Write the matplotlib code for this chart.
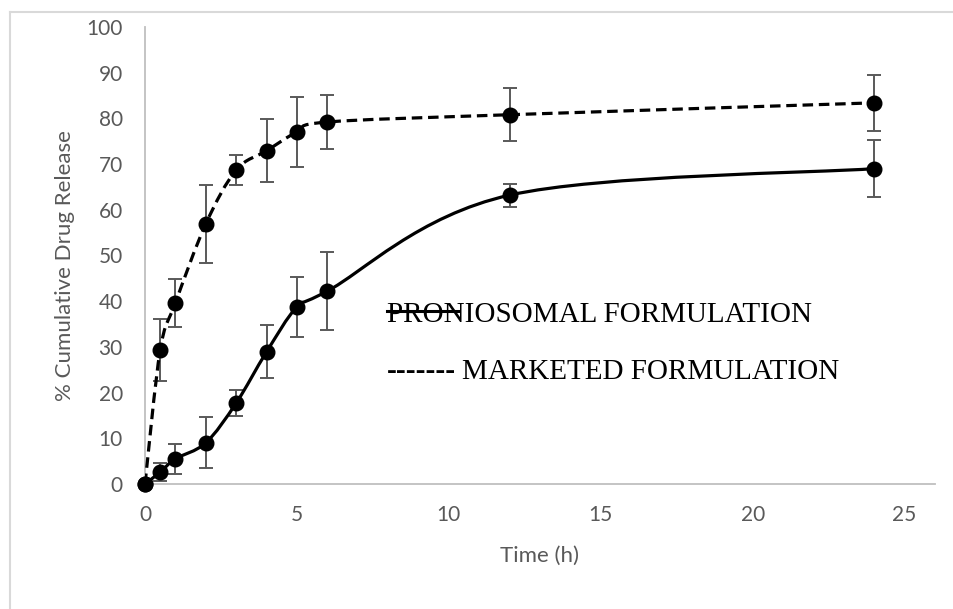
import matplotlib
matplotlib.use("Agg")
import matplotlib.pyplot as plt
from matplotlib.path import Path
from matplotlib.patches import PathPatch
from matplotlib.lines import Line2D

# release data (time in h, % cumulative drug release, SD)
time_h = [0, 0.5, 1, 2, 3, 4, 5, 6, 12, 24]
proniosomal = [0, 2.6, 5.5, 9.0, 17.7, 28.9, 38.7, 42.2, 63.2, 69.0]
proniosomal_sd = [0, 1.9, 3.3, 5.6, 2.9, 5.8, 6.5, 8.6, 2.5, 6.2]
marketed = [0, 29.3, 39.6, 56.9, 68.7, 72.9, 77.0, 79.2, 80.8, 83.4]
marketed_sd = [0, 6.8, 5.3, 8.5, 3.2, 6.9, 7.7, 5.9, 5.8, 6.1]

x_ticks = [0, 5, 10, 15, 20, 25]
y_ticks = [0, 10, 20, 30, 40, 50, 60, 70, 80, 90, 100]

grey = "#595959"


def smooth_path(xs, ys):
    # Excel-like smoothed line: cubic Bezier segments, Catmull-Rom control points
    pts = list(zip(xs, ys))
    verts = [pts[0]]
    codes = [Path.MOVETO]
    n = len(pts)
    for i in range(n - 1):
        p0 = pts[i - 1] if i > 0 else pts[i]
        p1 = pts[i]
        p2 = pts[i + 1]
        p3 = pts[i + 2] if i + 2 < n else pts[i + 1]
        c1 = (p1[0] + (p2[0] - p0[0]) / 6, p1[1] + (p2[1] - p0[1]) / 6)
        c2 = (p2[0] - (p3[0] - p1[0]) / 6, p2[1] - (p3[1] - p1[1]) / 6)
        verts += [c1, c2, p2]
        codes += [Path.CURVE4] * 3
    return Path(verts, codes)


fig = plt.figure(figsize=(9.54, 6.09), dpi=100)
ax = fig.add_axes([0.152, 0.2053, 0.828, 0.7504])

# smoothed curves
ax.add_patch(PathPatch(smooth_path(time_h, marketed), fill=False, color="black",
                       lw=2.3, linestyle=(0, (3.3, 1.8)), capstyle="butt", zorder=3))
ax.add_patch(PathPatch(smooth_path(time_h, proniosomal), fill=False, color="black",
                       lw=2.3, zorder=3))

# error bars and markers
ax.errorbar(time_h, marketed, yerr=marketed_sd, fmt="none", ecolor=grey,
            elinewidth=1.4, capsize=5, capthick=1.4, zorder=2)
ax.errorbar(time_h, proniosomal, yerr=proniosomal_sd, fmt="none", ecolor=grey,
            elinewidth=1.4, capsize=5, capthick=1.4, zorder=2)
ax.plot(time_h, marketed, "o", color="black", ms=10.5, zorder=4, clip_on=False)
ax.plot(time_h, proniosomal, "o", color="black", ms=10.5, zorder=4, clip_on=False)

ax.set_xlim(0, 26)
ax.set_ylim(0, 100)
ax.set_xticks(x_ticks)
ax.set_yticks(y_ticks)

for s in ["top", "right"]:
    ax.spines[s].set_visible(False)
for s in ["left", "bottom"]:
    ax.spines[s].set_color("#BFBFBF")
    ax.spines[s].set_linewidth(1.3)

ax.tick_params(length=0, labelsize=15, labelcolor=grey)
ax.tick_params(axis="y", pad=16)
ax.tick_params(axis="x", pad=15)
for lab in ax.get_xticklabels() + ax.get_yticklabels():
    lab.set_family("Lato")

ax.set_xlabel("Time (h)", fontsize=16, color=grey, family="Lato")
ax.set_ylabel("% Cumulative Drug Release", fontsize=16, color=grey, family="Lato")
ax.xaxis.set_label_coords(0.5, -0.136)
ax.yaxis.set_label_coords(-0.089, 0.477)

# hand-made legend (serif text with a line over "PRON")
fig.text(0.4057, 0.4713, "PRONIOSOMAL FORMULATION", family="Liberation Serif",
         fontsize=21, color="black", va="baseline", ha="left")
fig.text(0.4057, 0.3777, "-------", family="Liberation Serif", fontweight="bold",
         fontsize=21, color="black", va="baseline", ha="left")
fig.text(462 / 954, 0.3777, "MARKETED FORMULATION", family="Liberation Serif",
         fontsize=21, color="black", va="baseline", ha="left")
fig.add_artist(Line2D([387 / 954, 458 / 954], [1 - 311 / 609, 1 - 311 / 609],
                      color="black", lw=2.2, transform=fig.transFigure))

# chart-area border (left and top)
fig.add_artist(Line2D([10 / 954, 10 / 954], [0, 1 - 12 / 609], color="#D9D9D9",
                      lw=1.5, transform=fig.transFigure))
fig.add_artist(Line2D([10 / 954, 1], [1 - 12 / 609, 1 - 12 / 609], color="#D9D9D9",
                      lw=1.5, transform=fig.transFigure))

fig.savefig("out.png", dpi=100)
